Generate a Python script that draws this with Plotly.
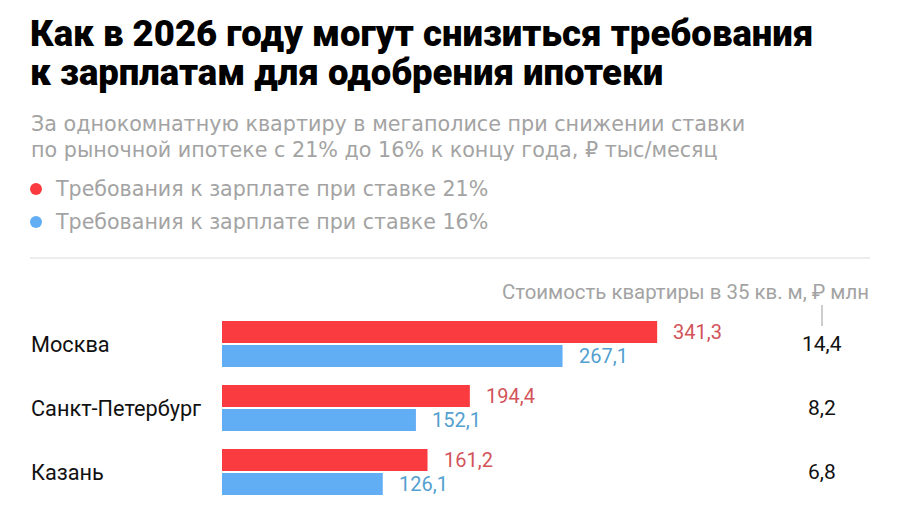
import plotly.graph_objects as go

# data
cities = ['Москва', 'Санкт-Петербург', 'Казань']
salary_21 = [341.3, 194.4, 161.2]  # ₽ тыс/месяц, ставка 21%
salary_16 = [267.1, 152.1, 126.1]  # ставка 16%
flat_price = [14.4, 8.2, 6.8]      # ₽ млн, 35 кв. м

W, H = 900, 505
OFF = 8  # page body margin in the browser
RED = '#fa3b40'
BLUE = '#62aef5'
RED_TXT = '#d2545a'
BLUE_TXT = '#529fd0'
GREY = '#a3a3a3'
FONT = 'Roboto'
FONT2 = 'DejaVu Sans'


def px(x):
    return (x - OFF) / W


def py(y):
    return 1 - (y - OFF) / H


def fmt(v):
    return f'{v:.1f}'.replace('.', ',')


fig = go.Figure()
fig.add_trace(go.Bar(y=cities, x=salary_21, orientation='h',
                     marker=dict(color=RED, line=dict(width=0)),
                     name='Требования к зарплате при ставке 21%', hoverinfo='x'))
fig.add_trace(go.Bar(y=cities, x=salary_16, orientation='h',
                     marker=dict(color=BLUE, line=dict(width=0)),
                     name='Требования к зарплате при ставке 16%', hoverinfo='x'))

ann = []
# title
title_font = dict(size=36.5, color='#000000', family=FONT, weight=900)
ann.append(dict(text='Как в 2026 году могут снизиться требования', x=px(28), y=py(33), font=title_font))
ann.append(dict(text='к зарплатам для одобрения ипотеки', x=px(28), y=py(72), font=title_font))
# subtitle
ann.append(dict(text='За однокомнатную квартиру в мегаполисе при снижении ставки', x=px(29), y=py(124),
                font=dict(size=20.7, color=GREY, family=FONT2)))
ann.append(dict(text='по рыночной ипотеке с 21% до 16% к концу года, ₽ тыс/месяц', x=px(29), y=py(150),
                font=dict(size=20.7, color=GREY, family=FONT2)))
# legend
for tr, yy in zip(fig.data, [189, 222]):
    ann.append(dict(text=tr.name, x=px(53), y=py(yy), font=dict(size=20.6, color=GREY, family=FONT2)))
for xx in ann:
    xx.update(xref='paper', yref='paper', xanchor='left', yanchor='middle', showarrow=False)

# right column header
ann.append(dict(text='Стоимость квартиры в 35 кв. м, ₽ млн', x=px(871), y=py(292), xref='paper', yref='paper',
                xanchor='right', yanchor='middle', showarrow=False,
                font=dict(size=20.4, color=GREY, family=FONT)))

for i, c in enumerate(cities):
    # city label
    ann.append(dict(text=c, x=px(29), y=i, xref='paper', yref='y', xanchor='left', yanchor='middle',
                    showarrow=False, font=dict(size=21.7, color='#111111', family=FONT)))
    # price
    ann.append(dict(text=fmt(flat_price[i]), x=px(822), y=i, xref='paper', yref='y', xanchor='center',
                    yanchor='middle', showarrow=False, font=dict(size=21, color='#111111', family=FONT)))
    # bar values
    ann.append(dict(text=fmt(salary_21[i]), x=salary_21[i], y=i - 0.19, xref='x', yref='y', xanchor='left',
                    yanchor='middle', xshift=14, showarrow=False, font=dict(size=20, color=RED_TXT, family=FONT)))
    ann.append(dict(text=fmt(salary_16[i]), x=salary_16[i], y=i + 0.19, xref='x', yref='y', xanchor='left',
                    yanchor='middle', xshift=14, showarrow=False, font=dict(size=20, color=BLUE_TXT, family=FONT)))

shapes = [
    dict(type='line', xref='paper', yref='paper', x0=px(30), x1=px(870), y0=py(258), y1=py(258),
         line=dict(color='#e6e6e6', width=1.5)),
    dict(type='line', xref='paper', yref='paper', x0=px(822), x1=px(822), y0=py(305), y1=py(326),
         line=dict(color='#9a9a9a', width=1)),
    dict(type='circle', xref='paper', yref='paper', x0=px(30), x1=px(42), y0=py(183), y1=py(195),
         fillcolor=RED, line=dict(width=0)),
    dict(type='circle', xref='paper', yref='paper', x0=px(30), x1=px(42), y0=py(216), y1=py(228),
         fillcolor=BLUE, line=dict(width=0)),
]

fig.update_layout(
    width=W, height=H,
    margin=dict(l=0, r=0, t=0, b=0),
    barmode='group', bargap=0.25, bargroupgap=0.08,
    showlegend=False,
    plot_bgcolor='white', paper_bgcolor='white',
    font=dict(family=FONT),
    xaxis=dict(domain=[px(222), 1], range=[0, (W - 222 + OFF) / 1.275], visible=False, fixedrange=True),
    yaxis=dict(domain=[py(504), py(312)], range=[2.5, -0.5], visible=False, fixedrange=True),
    annotations=ann,
    shapes=shapes,
)

fig.write_html('out.html')
